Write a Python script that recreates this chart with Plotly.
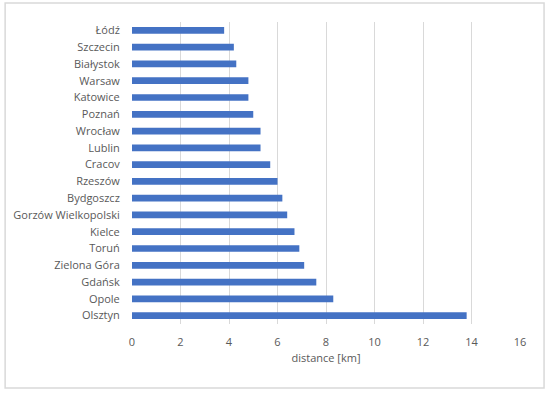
import plotly.graph_objects as go

cities = ["Łódź", "Szczecin", "Białystok", "Warsaw", "Katowice", "Poznań", "Wrocław",
          "Lublin", "Cracov", "Rzeszów", "Bydgoszcz", "Gorzów Wielkopolski", "Kielce",
          "Toruń", "Zielona Góra", "Gdańsk", "Opole", "Olsztyn"]
distance_km = [3.8, 4.2, 4.3, 4.8, 4.8, 5.0, 5.3, 5.3, 5.7, 6.0, 6.2, 6.4, 6.7,
               6.9, 7.1, 7.6, 8.3, 13.8]
x_ticks = [0, 2, 4, 6, 8, 10, 12, 14, 16]

fig = go.Figure(go.Bar(
    x=distance_km, y=cities, orientation="h",
    marker=dict(color="#4472C4", line=dict(width=0)),
))

font_family = "Open Sans, Liberation Sans, sans-serif"
fig.update_layout(
    width=550, height=395,
    margin=dict(l=132, r=30, t=22, b=71, autoexpand=False),
    paper_bgcolor="white", plot_bgcolor="white",
    bargap=0.6,
    showlegend=False,
    font=dict(family=font_family, size=11, color="#595959"),
    xaxis=dict(
        range=[0, 16], tickvals=x_ticks, showgrid=True, gridcolor="#d9d9d9", gridwidth=1,
        zeroline=False, showline=False, ticks="outside", ticklen=8, tickcolor="white",
        automargin=False,
        tickfont=dict(size=11, color="#595959"),
        title=dict(text="distance [km]", font=dict(size=11, color="#595959"), standoff=6),
    ),
    yaxis=dict(
        autorange="reversed", showgrid=False, zeroline=False, showline=False,
        ticks="outside", ticklen=9, tickcolor="white", automargin=False,
        tickfont=dict(size=11, color="#595959"),
    ),
    shapes=[dict(type="rect", xref="paper", yref="paper",
                 x0=-0.327, x1=1.062, y0=-0.212, y1=1.063,
                 line=dict(color="#d9d9d9", width=1.5), fillcolor="rgba(0,0,0,0)", layer="below")],
)

fig.write_html("out.html", config={"displayModeBar": False},
               post_script="document.body.style.margin='0';document.body.style.overflow='hidden';")
